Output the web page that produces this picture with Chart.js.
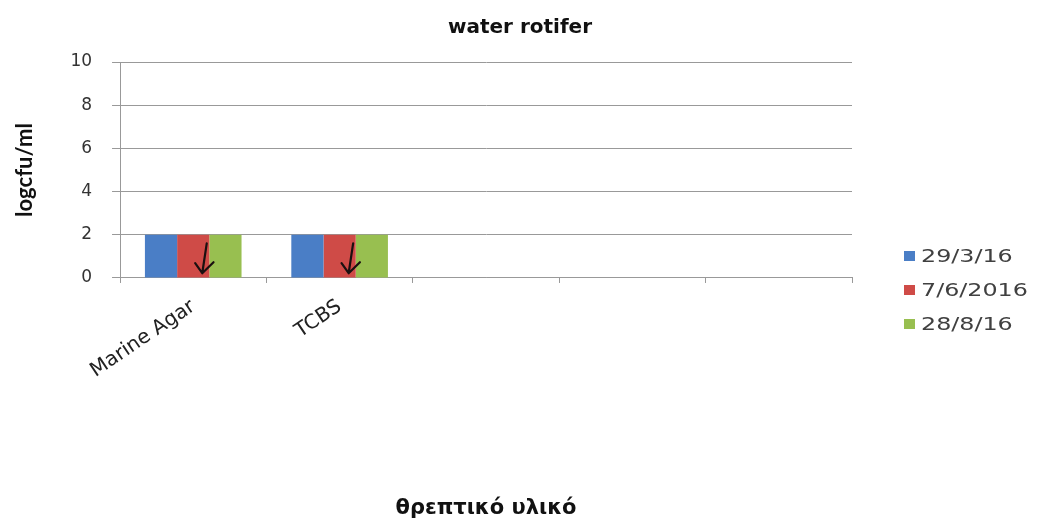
<!DOCTYPE html>
<html>
<head>
<meta charset="utf-8">
<script src="https://cdn.jsdelivr.net/npm/chart.js@4"></script>
<style>
    html, body { margin: 0; padding: 0; background: #fff; }
    #wrap { position: relative; width: 1040px; height: 521px; }
    #legend { position: absolute; left: 904px; top: 244px; font-family: "DejaVu Sans", sans-serif; font-size: 17px; color: #404040; }
    #legend div { height: 34px; line-height: 24px; white-space: nowrap; }
    #legend span.box { width: 11px; height: 10px; margin-right: 6px; display: inline-block; vertical-align: 1px; }
    #legend span.txt { display: inline-block; transform: scaleX(1.4); transform-origin: left center; }
</style>
</head>
<body>
<div id="wrap">
    <canvas id="myChart" width="1040" height="521"></canvas>
    <div id="legend"></div>
</div>
<script>
// data
const categories = ["Marine Agar", "TCBS", "", "", ""];
const seriesNames = ["29/3/16", "7/6/2016", "28/8/16"];
const values29_3 = [2, 2, null, null, null];
const values7_6 = [2, 2, null, null, null];
const values28_8 = [2, 2, null, null, null];
const yTicks = [0, 2, 4, 6, 8, 10];
const colors = ["#4a7ec6", "#cf4b47", "#98bf50"];

// hand drawn arrows on the red bars
const arrowPlugin = {
    id: "arrows",
    afterDatasetsDraw(chart) {
        let ctx = chart.ctx;
        let meta = chart.getDatasetMeta(1);
        let vals = chart.data.datasets[1].data;
        let y = chart.scales.y;
        ctx.save();
        ctx.strokeStyle = "#1a1010";
        ctx.lineWidth = 2.2;
        ctx.lineCap = "round";
        meta.data.forEach((bar, i) => {
            if (vals[i] === null || vals[i] === undefined) return;
            let w = bar.width;
            let x1 = bar.x + 0.42 * w, y1 = y.getPixelForValue(1.6);
            let x2 = bar.x + 0.28 * w, y2 = y.getPixelForValue(0.22);
            ctx.beginPath();
            ctx.moveTo(x1, y1);
            ctx.lineTo(x2, y2);
            ctx.moveTo(x2, y2);
            ctx.lineTo(x2 - 0.22 * w, y2 - 10);
            ctx.moveTo(x2, y2);
            ctx.lineTo(x2 + 0.35 * w, y2 - 11);
            ctx.stroke();
        });
        ctx.restore();
    }
};

document.addEventListener("DOMContentLoaded", function () {
    let ctx = document.getElementById("myChart").getContext("2d");
    let allValues = [values29_3, values7_6, values28_8];

    let myChart = new Chart(ctx, {
        type: "bar",
        data: {
            labels: categories,
            datasets: seriesNames.map((name, i) => ({
                label: name,
                data: allValues[i],
                backgroundColor: colors[i],
                borderWidth: 0,
                categoryPercentage: 0.66,
                barPercentage: 1.0
            }))
        },
        options: {
            responsive: false,
            animation: false,
            layout: { padding: { left: 0, right: 0, top: 6, bottom: 0 } },
            plugins: {
                legend: { display: false },
                tooltip: { enabled: false },
                title: {
                    display: true,
                    text: "water rotifer",
                    color: "#111",
                    font: { family: "DejaVu Sans", size: 20, weight: "bold" },
                    padding: { top: 10, bottom: 22 }
                }
            },
            scales: {
                x: {
                    grid: { drawOnChartArea: false, offset: true, color: "#999", tickLength: 5 },
                    border: { color: "#999" },
                    ticks: {
                        color: "#222",
                        font: { family: "DejaVu Sans", size: 20 },
                        maxRotation: 34,
                        minRotation: 34,
                        autoSkip: false,
                        padding: 12
                    },
                    title: {
                        display: true,
                        text: "θρεπτικό υλικό",
                        color: "#111",
                        font: { family: "DejaVu Sans", size: 21, weight: "bold" },
                        padding: { top: 101, bottom: 0 }
                    }
                },
                y: {
                    min: 0,
                    max: 10,
                    afterBuildTicks(axis) { axis.ticks = yTicks.map(v => ({ value: v })); },
                    grid: { color: "#999", tickLength: 8 },
                    border: { color: "#999" },
                    ticks: {
                        color: "#333",
                        font: { family: "DejaVu Sans", size: 17 },
                        padding: 20
                    },
                    title: {
                        display: true,
                        text: "logcfu/ml",
                        color: "#111",
                        font: { family: "Lato", size: 22, weight: "bold" },
                        padding: { top: 12, bottom: 12 }
                    }
                },
                // empty axis that only keeps room for the legend
                side: {
                    position: "right",
                    display: true,
                    grid: { display: false },
                    border: { display: false },
                    ticks: { display: false },
                    afterFit(axis) { axis.width = 188; }
                }
            }
        },
        plugins: [arrowPlugin]
    });

    let legend = document.getElementById("legend");
    myChart.data.datasets.forEach(ds => {
        let row = document.createElement("div");
        let box = document.createElement("span");
        box.className = "box";
        box.style.background = ds.backgroundColor;
        let txt = document.createElement("span");
        txt.className = "txt";
        txt.textContent = ds.label;
        row.appendChild(box);
        row.appendChild(txt);
        legend.appendChild(row);
    });
});
</script>
</body>
</html>
